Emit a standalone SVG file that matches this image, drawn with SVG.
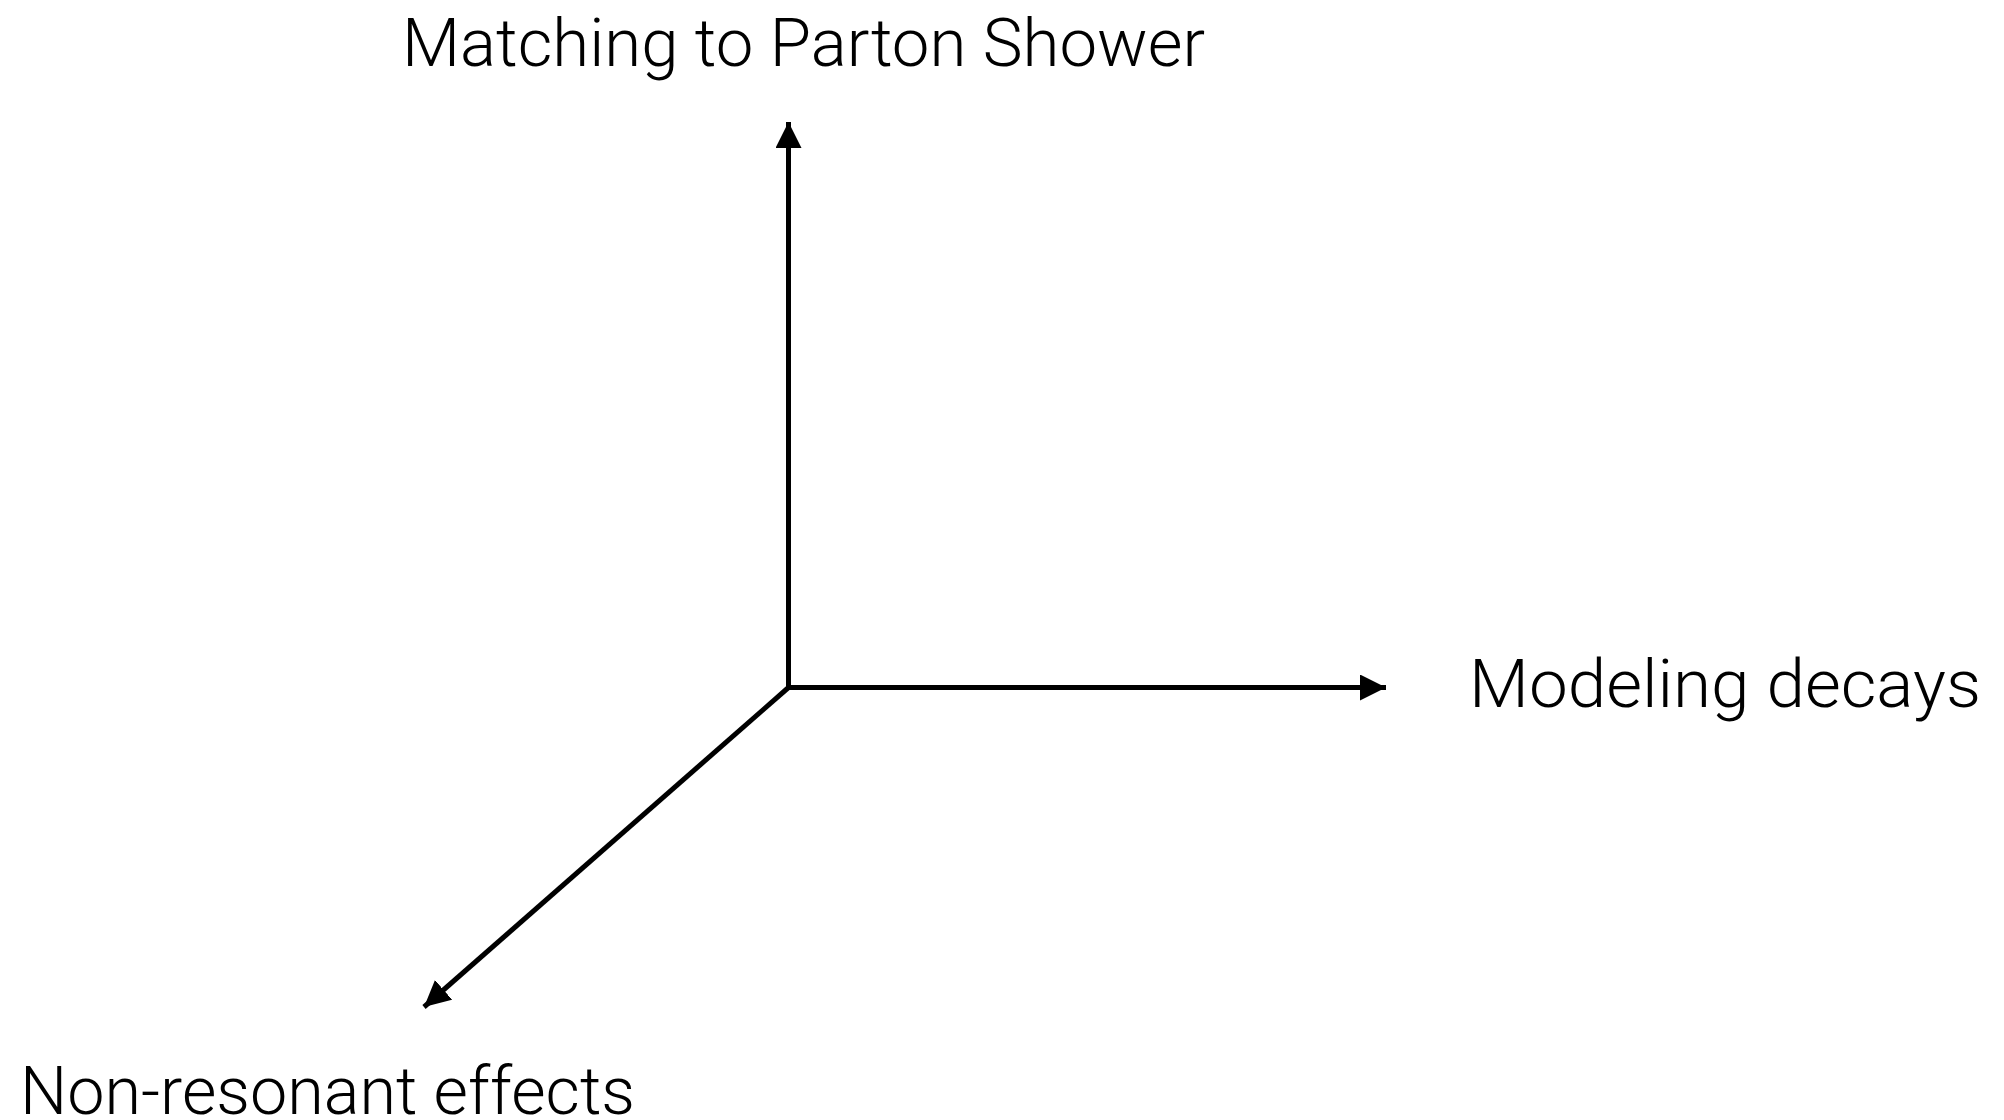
<svg xmlns="http://www.w3.org/2000/svg" width="2004" height="1120" viewBox="0 0 2004 1120">
  <style>
    .axis { stroke: #000; stroke-width: 5; fill: none; }
    .label { font-family: Roboto, "Liberation Sans", sans-serif; font-weight: 300; font-size: 67px; fill: #000; }
  </style>
  <defs>
    <marker id="head" viewBox="0 0 26 26" refX="26" refY="13" markerWidth="26" markerHeight="26" markerUnits="userSpaceOnUse" orient="auto">
      <path d="M0,0 L26,13 L0,26 Z" fill="#000"/>
    </marker>
  </defs>
  <rect width="2004" height="1120" fill="#fff"/>
  <g id="connectors">
    <line class="axis" x1="788.5" y1="690" x2="788.5" y2="122" marker-end="url(#head)"/>
    <line class="axis" x1="786" y1="687.5" x2="1386" y2="687.5" marker-end="url(#head)"/>
    <line class="axis" x1="788.5" y1="687.5" x2="424" y2="1007" marker-end="url(#head)"/>
  </g>
  <g id="axis-up">
    <text class="label" x="402" y="66" textLength="803" lengthAdjust="spacingAndGlyphs">Matching to Parton Shower</text>
  </g>
  <g id="axis-right">
    <text class="label" x="1469" y="707" textLength="512" lengthAdjust="spacingAndGlyphs">Modeling decays</text>
  </g>
  <g id="axis-down">
    <text class="label" x="20" y="1114" textLength="615" lengthAdjust="spacingAndGlyphs">Non-resonant effects</text>
  </g>
</svg>
